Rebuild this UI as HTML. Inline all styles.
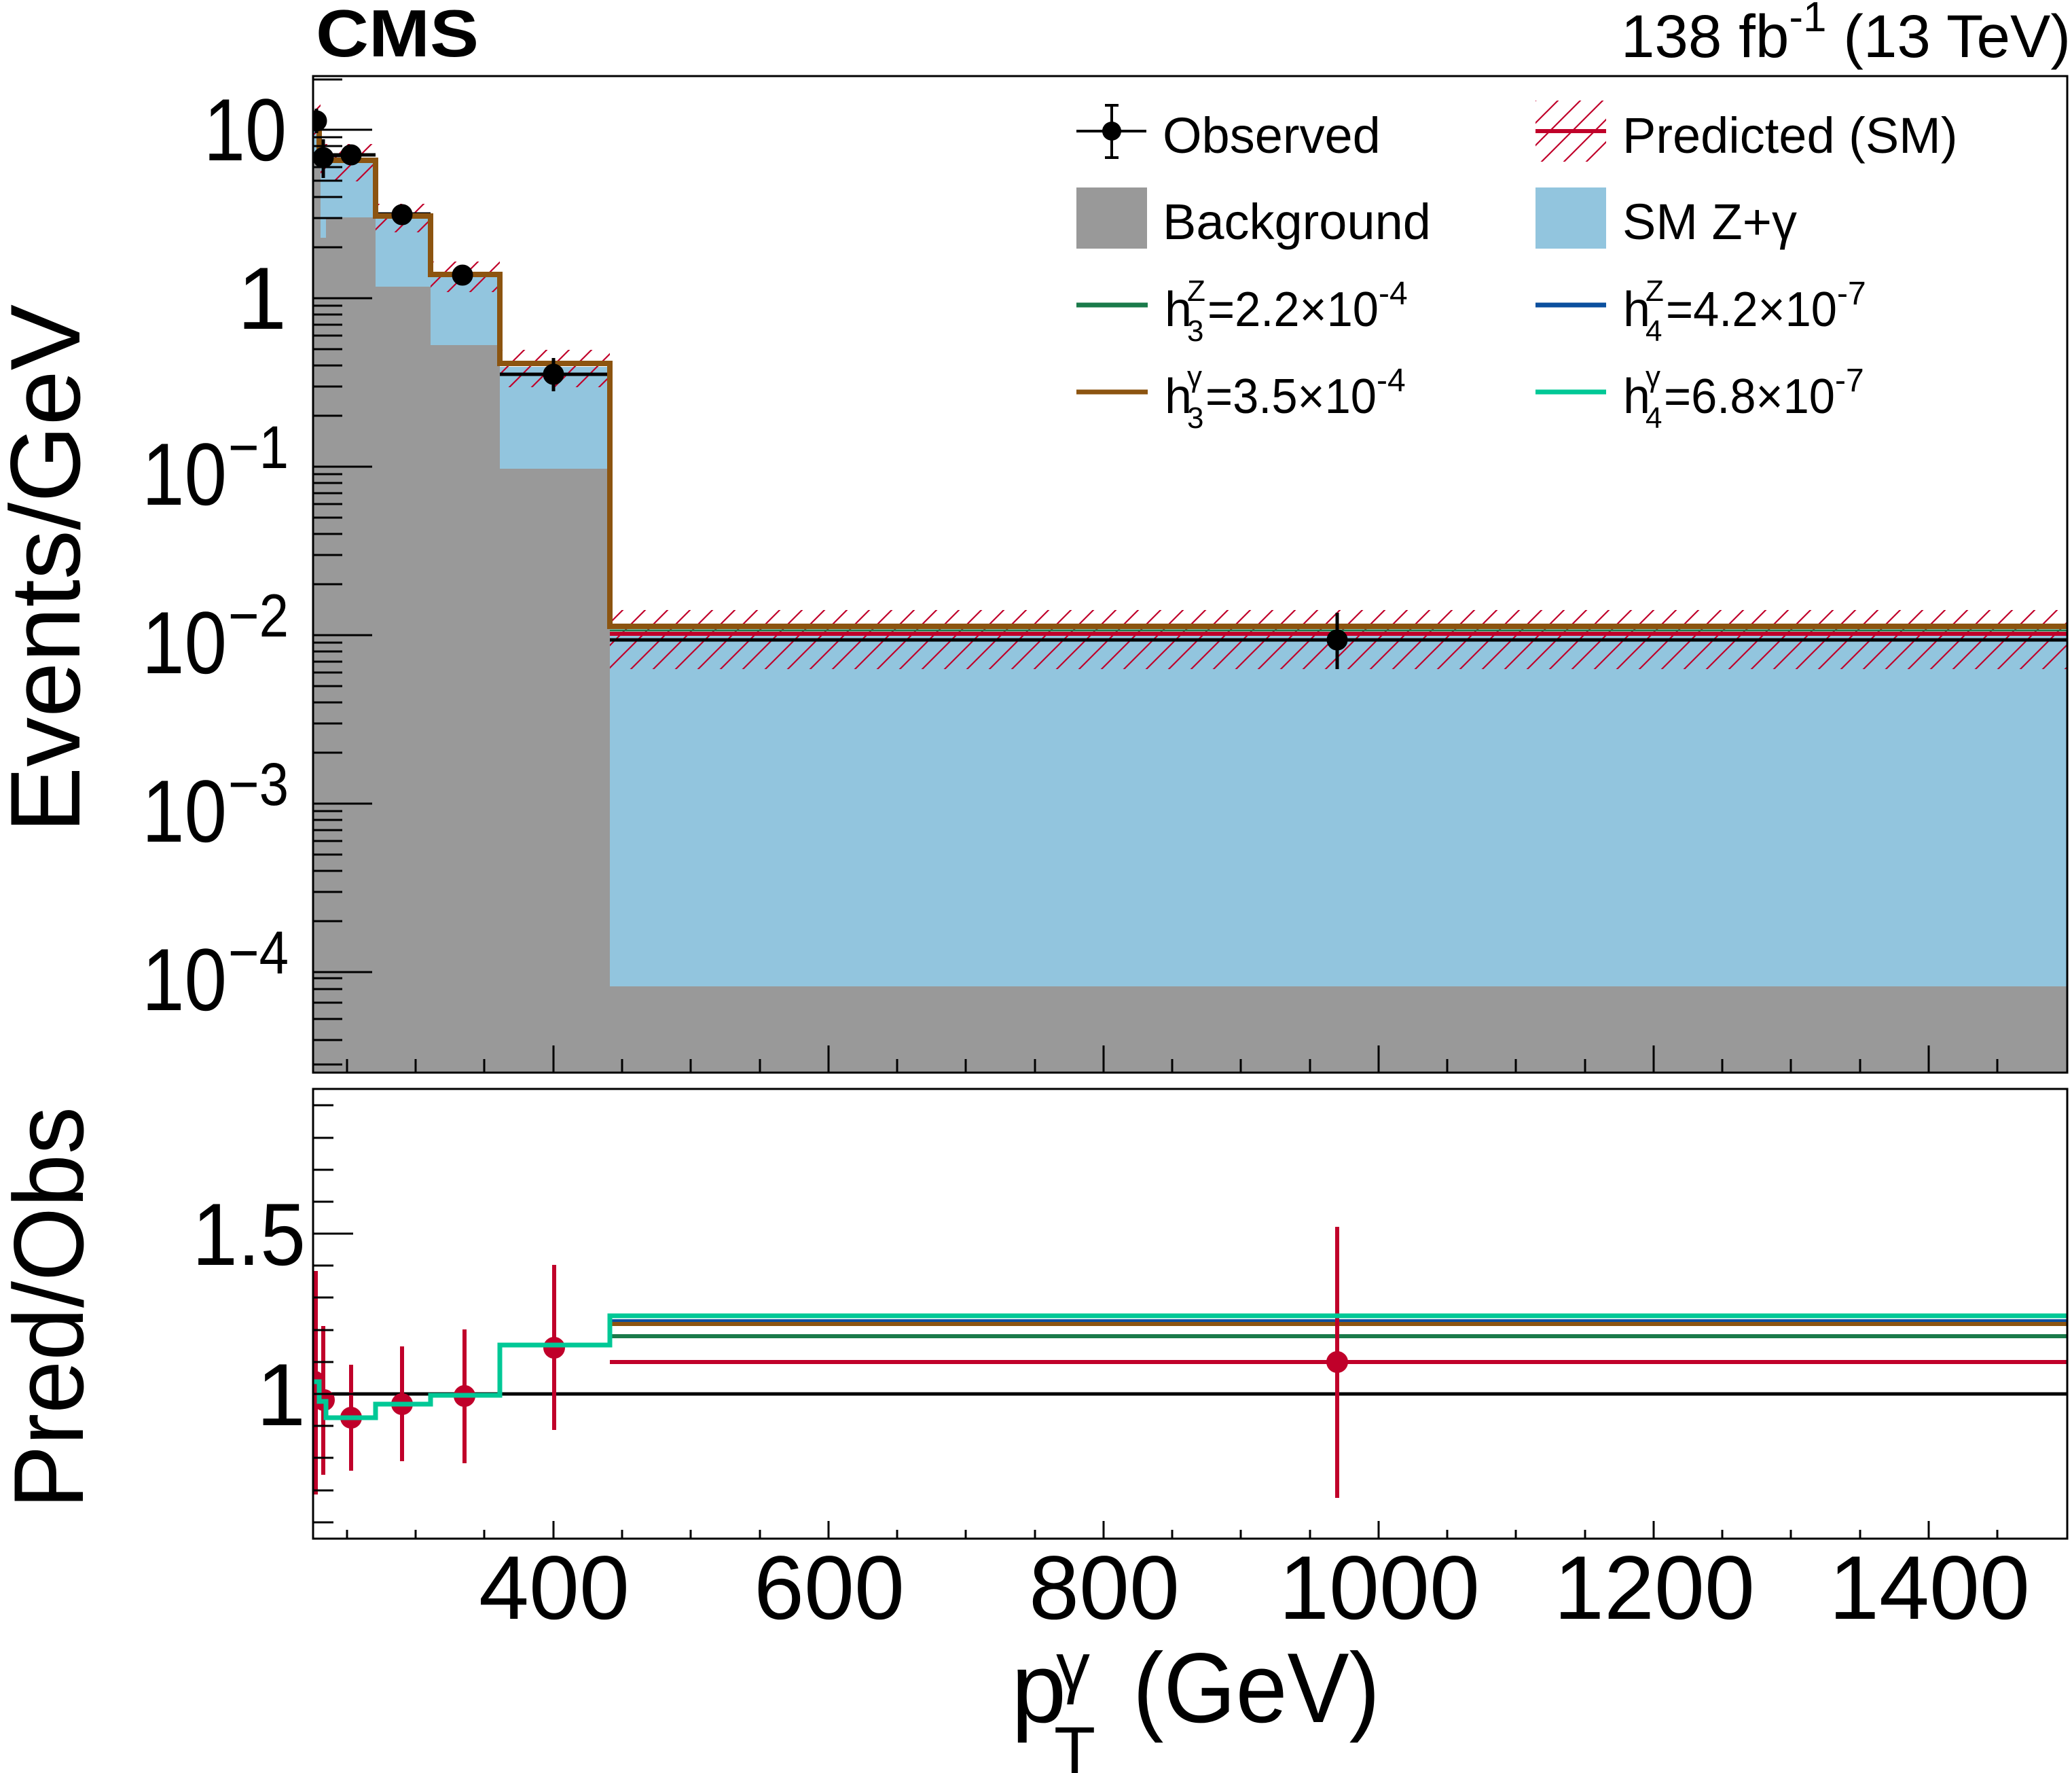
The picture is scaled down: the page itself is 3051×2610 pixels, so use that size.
<!DOCTYPE html>
<html><head><meta charset="utf-8"><style>
html,body{margin:0;padding:0;background:#fff;}
svg{display:block;font-family:"Liberation Sans",Arial,sans-serif;}
</style></head><body>
<svg width="3051" height="2610" viewBox="0 0 3051 2610" xmlns="http://www.w3.org/2000/svg">
<defs>
<pattern id="h" patternUnits="userSpaceOnUse" width="33" height="33">
<path d="M-5,38 L38,-5 M-38,38 L5,-5 M28,38 L71,-5" stroke="#c0002a" stroke-width="2.2"/>
</pattern>
<clipPath id="up"><rect x="461" y="112" width="2583" height="1467"/></clipPath>
<clipPath id="lo"><rect x="461" y="1603" width="2583" height="662"/></clipPath>
</defs>

<g clip-path="url(#up)">
<path fill="#92c5de" d="M461,1579 V185 H472 V240 H480 V240 H553 V320 H634 V408 H736 V540 H898 V933 H3044 V1579 Z"/>
<path fill="#999999" d="M461,1579 V240 H472 V350 H480 V320 H553 V422 H634 V508 H736 V690 H898 V1452 H3044 V1579 Z"/>
<rect x="461" y="143" width="11" height="60" fill="url(#h)"/>
<rect x="472" y="212" width="81" height="55" fill="url(#h)"/>
<rect x="553" y="300" width="81" height="42" fill="url(#h)"/>
<rect x="634" y="385" width="102" height="45" fill="url(#h)"/>
<rect x="736" y="515" width="162" height="55" fill="url(#h)"/>
<rect x="898" y="898" width="2146" height="87" fill="url(#h)"/>
<g stroke="#000" stroke-width="5">
<line x1="480" y1="228" x2="553" y2="228"/>
<line x1="553" y1="315" x2="634" y2="315"/>
<line x1="634" y1="405" x2="736" y2="405"/>
<line x1="736" y1="551" x2="898" y2="551"/>
<line x1="898" y1="942" x2="3044" y2="942"/>
</g>
<line x1="898" y1="933" x2="3044" y2="933" stroke="#c0002a" stroke-width="6"/>
<line x1="898" y1="928" x2="3044" y2="928" stroke="#1a7a4a" stroke-width="3"/>
<path fill="none" stroke="#8c5410" stroke-width="8" d="M461,173 H470 V236 H553 V318 H634 V404 H736 V535 H898 V922 H3044"/>
<g stroke="#000" stroke-width="5" fill="#000">
<line x1="466" y1="160" x2="466" y2="196"/><circle cx="466" cy="178" r="13"/>
<line x1="476" y1="205" x2="476" y2="262"/><circle cx="476" cy="232" r="13"/>
<circle cx="517" cy="228" r="13"/>
<circle cx="592" cy="316" r="13"/>
<line x1="681" y1="395" x2="681" y2="420"/><circle cx="681" cy="405" r="13"/>
<line x1="815" y1="527" x2="815" y2="576"/><circle cx="815" cy="551" r="13"/>
<line x1="1969" y1="902" x2="1969" y2="985"/><circle cx="1969" cy="942" r="13"/>
</g>
</g>

<rect x="461" y="112" width="2583" height="1467" fill="none" stroke="#000" stroke-width="3"/>
<g stroke="#000" stroke-width="3">
<line x1="461" y1="191" x2="548" y2="191"/>
<line x1="461" y1="439" x2="548" y2="439"/>
<line x1="461" y1="687" x2="548" y2="687"/>
<line x1="461" y1="935" x2="548" y2="935"/>
<line x1="461" y1="1183" x2="548" y2="1183"/>
<line x1="461" y1="1431" x2="548" y2="1431"/>
<path d="M461,117 h43 M461,1567 h43
M461,364 h43 M461,321 h43 M461,290 h43 M461,266 h43 M461,246 h43 M461,230 h43 M461,215 h43 M461,202 h43
M461,612 h43 M461,569 h43 M461,538 h43 M461,514 h43 M461,494 h43 M461,478 h43 M461,463 h43 M461,450 h43
M461,860 h43 M461,817 h43 M461,786 h43 M461,762 h43 M461,742 h43 M461,726 h43 M461,711 h43 M461,698 h43
M461,1108 h43 M461,1065 h43 M461,1034 h43 M461,1010 h43 M461,990 h43 M461,974 h43 M461,959 h43 M461,946 h43
M461,1356 h43 M461,1313 h43 M461,1282 h43 M461,1258 h43 M461,1238 h43 M461,1222 h43 M461,1207 h43 M461,1194 h43
M461,1531 h43 M461,1500 h43 M461,1476 h43 M461,1456 h43 M461,1440 h43"/>
<path d="M815,1579 v-40 M1220,1579 v-40 M1625,1579 v-40 M2030,1579 v-40 M2435,1579 v-40 M2840,1579 v-40
M511,1579 v-20 M612,1579 v-20 M713,1579 v-20 M916,1579 v-20 M1017,1579 v-20 M1119,1579 v-20 M1321,1579 v-20 M1422,1579 v-20 M1524,1579 v-20 M1726,1579 v-20 M1827,1579 v-20 M1929,1579 v-20 M2131,1579 v-20 M2232,1579 v-20 M2334,1579 v-20 M2536,1579 v-20 M2637,1579 v-20 M2739,1579 v-20 M2941,1579 v-20"/>
</g>

<g font-size="130" fill="#000">
<text x="300" y="236" textLength="122" lengthAdjust="spacingAndGlyphs">10</text>
<text x="422" y="484" text-anchor="end">1</text>
<text x="209" y="743" textLength="125" lengthAdjust="spacingAndGlyphs">10</text>
<text x="336" y="689" font-size="89" textLength="89" lengthAdjust="spacingAndGlyphs">−1</text>
<text x="209" y="991" textLength="125" lengthAdjust="spacingAndGlyphs">10</text>
<text x="336" y="937" font-size="89" textLength="89" lengthAdjust="spacingAndGlyphs">−2</text>
<text x="209" y="1239" textLength="125" lengthAdjust="spacingAndGlyphs">10</text>
<text x="336" y="1185" font-size="89" textLength="89" lengthAdjust="spacingAndGlyphs">−3</text>
<text x="209" y="1487" textLength="125" lengthAdjust="spacingAndGlyphs">10</text>
<text x="336" y="1433" font-size="89" textLength="89" lengthAdjust="spacingAndGlyphs">−4</text>
</g>
<text transform="translate(117,837) rotate(-90)" font-size="146" text-anchor="middle" textLength="778" lengthAdjust="spacingAndGlyphs">Events/GeV</text>

<text x="465" y="83" font-size="98" font-weight="bold" textLength="240" lengthAdjust="spacingAndGlyphs">CMS</text>
<text x="3049" y="84" font-size="89" text-anchor="end">138 fb<tspan font-size="62" dy="-38">-1</tspan><tspan dy="38"> (13 TeV)</tspan></text>

<g font-size="74" fill="#000">
<line x1="1585" y1="193" x2="1688" y2="193" stroke="#000" stroke-width="4"/>
<line x1="1637" y1="154" x2="1637" y2="233" stroke="#000" stroke-width="4"/>
<line x1="1627" y1="155" x2="1647" y2="155" stroke="#000" stroke-width="4"/>
<line x1="1627" y1="232" x2="1647" y2="232" stroke="#000" stroke-width="4"/>
<circle cx="1637" cy="193" r="14"/>
<text x="1712" y="225">Observed</text>
<rect x="1585" y="276" width="104" height="90" fill="#999999"/>
<text x="1712" y="352">Background</text>
<line x1="1585" y1="449" x2="1690" y2="449" stroke="#1a7a4a" stroke-width="7"/>
<text x="1715" y="480" font-size="72">h</text>
<text x="1748" y="443" font-size="44">Z</text>
<text x="1748" y="502" font-size="44">3</text>
<text x="1778" y="480" font-size="72" textLength="252" lengthAdjust="spacingAndGlyphs">=2.2×10</text>
<text x="2030" y="448" font-size="48">-4</text>
<line x1="1585" y1="577" x2="1690" y2="577" stroke="#8c5410" stroke-width="7"/>
<text x="1715" y="608" font-size="72">h</text>
<text x="1748" y="569" font-size="44">γ</text>
<text x="1748" y="630" font-size="44">3</text>
<text x="1775" y="608" font-size="72" textLength="252" lengthAdjust="spacingAndGlyphs">=3.5×10</text>
<text x="2027" y="576" font-size="48">-4</text>

<rect x="2261" y="148" width="104" height="90" fill="url(#h)"/>
<line x1="2261" y1="193" x2="2365" y2="193" stroke="#c0002a" stroke-width="6"/>
<text x="2389" y="225">Predicted (SM)</text>
<rect x="2261" y="276" width="104" height="90" fill="#92c5de"/>
<text x="2389" y="352">SM Z+γ</text>
<line x1="2261" y1="449" x2="2365" y2="449" stroke="#0b4f9e" stroke-width="7"/>
<text x="2390" y="480" font-size="72">h</text>
<text x="2423" y="443" font-size="44">Z</text>
<text x="2423" y="502" font-size="44">4</text>
<text x="2453" y="480" font-size="72" textLength="252" lengthAdjust="spacingAndGlyphs">=4.2×10</text>
<text x="2705" y="448" font-size="48">-7</text>
<line x1="2261" y1="577" x2="2365" y2="577" stroke="#00c896" stroke-width="7"/>
<text x="2390" y="608" font-size="72">h</text>
<text x="2423" y="569" font-size="44">γ</text>
<text x="2423" y="630" font-size="44">4</text>
<text x="2450" y="608" font-size="72" textLength="252" lengthAdjust="spacingAndGlyphs">=6.8×10</text>
<text x="2702" y="576" font-size="48">-7</text>
</g>

<g clip-path="url(#lo)">
<line x1="461" y1="2052" x2="3044" y2="2052" stroke="#000" stroke-width="5"/>
<line x1="898" y1="2005" x2="3044" y2="2005" stroke="#c0002a" stroke-width="6"/>
<line x1="898" y1="1967" x2="3044" y2="1967" stroke="#1a7a4a" stroke-width="6"/>
<line x1="898" y1="1949" x2="3044" y2="1949" stroke="#8c5410" stroke-width="6"/>
<line x1="898" y1="1944" x2="3044" y2="1944" stroke="#0b4f9e" stroke-width="4"/>
<g stroke="#c0002a" stroke-width="6" fill="#c0002a">
<line x1="465" y1="1871" x2="465" y2="2200"/><circle cx="463" cy="2034" r="13"/>
<line x1="476" y1="1952" x2="476" y2="2171"/><circle cx="477" cy="2061" r="13"/>
<line x1="517" y1="2009" x2="517" y2="2165"/><circle cx="517" cy="2087" r="13"/>
<line x1="592" y1="1982" x2="592" y2="2151"/><circle cx="592" cy="2067" r="13"/>
<line x1="684" y1="1957" x2="684" y2="2154"/><circle cx="684" cy="2055" r="13"/>
<line x1="816" y1="1862" x2="816" y2="2105"/><circle cx="816" cy="1984" r="13"/>
<line x1="1969" y1="1806" x2="1969" y2="2205"/><circle cx="1969" cy="2005" r="13"/>
</g>
<path fill="none" stroke="#00c896" stroke-width="7" d="M461,2034 H470 V2063 H480 V2087 H553 V2067 H634 V2054 H736 V1980 H898 V1937 H3044"/>
</g>
<rect x="461" y="1603" width="2583" height="662" fill="none" stroke="#000" stroke-width="3"/>
<g stroke="#000" stroke-width="3">
<path d="M461,1816 h59 M461,2052 h59
M461,1627 h30 M461,1675 h30 M461,1722 h30 M461,1769 h30 M461,1863 h30 M461,1910 h30 M461,1958 h30 M461,2005 h30 M461,2099 h30 M461,2146 h30 M461,2194 h30 M461,2241 h30"/>
<path d="M815,2265 v-26 M1220,2265 v-26 M1625,2265 v-26 M2030,2265 v-26 M2435,2265 v-26 M2840,2265 v-26
M511,2265 v-13 M612,2265 v-13 M713,2265 v-13 M916,2265 v-13 M1017,2265 v-13 M1119,2265 v-13 M1321,2265 v-13 M1422,2265 v-13 M1524,2265 v-13 M1726,2265 v-13 M1827,2265 v-13 M1929,2265 v-13 M2131,2265 v-13 M2232,2265 v-13 M2334,2265 v-13 M2536,2265 v-13 M2637,2265 v-13 M2739,2265 v-13 M2941,2265 v-13"/>
</g>
<g font-size="130">
<text x="283" y="1862" textLength="167" lengthAdjust="spacingAndGlyphs">1.5</text>
<text x="450" y="2098" text-anchor="end">1</text>
</g>
<text transform="translate(122,1925) rotate(-90)" font-size="146" text-anchor="middle" textLength="592" lengthAdjust="spacingAndGlyphs">Pred/Obs</text>
<g font-size="133" text-anchor="middle">
<text x="816" y="2383">400</text>
<text x="1221" y="2383">600</text>
<text x="1626" y="2383">800</text>
<text x="2031" y="2383">1000</text>
<text x="2436" y="2383">1200</text>
<text x="2841" y="2383">1400</text>
</g>
<text x="1489" y="2535" font-size="146">p</text>
<text x="1555" y="2488" font-size="100">γ</text>
<text x="1552" y="2612" font-size="100">T</text>
<text x="1668" y="2535" font-size="146" textLength="364" lengthAdjust="spacingAndGlyphs">(GeV)</text>
</svg>
</body></html>
